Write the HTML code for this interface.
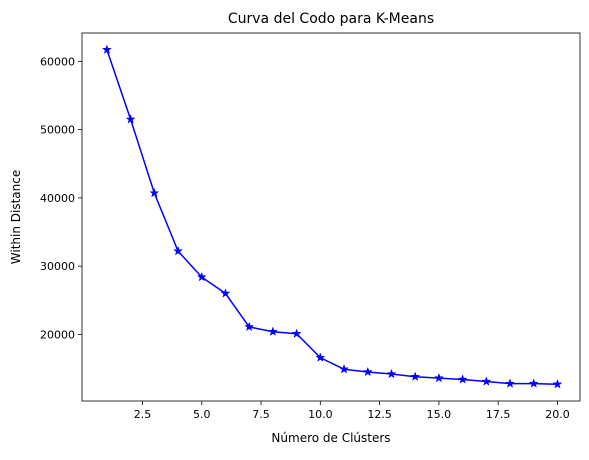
<!DOCTYPE html>
<html><head><meta charset="utf-8">
<style>
body{margin:0;background:#fff;font-family:"Liberation Sans","DejaVu Sans",sans-serif;}
svg text{font-family:"DejaVu Sans","Liberation Sans",sans-serif;}
</style></head>
<body>
<svg id="chart" width="589" height="455" viewBox="0 0 589 455">
<text x="331" y="23" font-size="14" text-anchor="middle">Curva del Codo para K-Means</text>
<text x="331" y="442" font-size="12" text-anchor="middle">Número de Clústers</text>
<text x="20" y="217" font-size="12" text-anchor="middle" transform="rotate(-90 20 217)">Within Distance</text>
<g id="axes"></g>
</svg>
<script>
const clusters=[1,2,3,4,5,6,7,8,9,10,11,12,13,14,15,16,17,18,19,20];
const distances=[61700,51500,40700,32200,28400,26000,21100,20400,20100,16600,14900,14500,14200,13800,13600,13400,13100,12800,12800,12700];
const xTicks=[2.5,5.0,7.5,10.0,12.5,15.0,17.5,20.0];
const yTicks=[20000,30000,40000,50000,60000];
const L=82,R=580,T=33,B=401;
const xMin=-0.05,xMax=20.95,yMin=10250,yMax=64150;
const sx=v=>L+(v-xMin)/(xMax-xMin)*(R-L);
const sy=v=>B-(v-yMin)/(yMax-yMin)*(B-T);
const NS="http://www.w3.org/2000/svg";
const g=document.getElementById('axes');
function mk(t,a){const e=document.createElementNS(NS,t);for(const k in a)e.setAttribute(k,a[k]);g.appendChild(e);return e;}
xTicks.forEach(v=>{
 const l=mk('line',{x1:sx(v),x2:sx(v),y1:B,y2:B+4,stroke:'#000','stroke-width':0.8});
 
 
 const t=mk('text',{x:sx(v),y:B+17,'font-size':11,'text-anchor':'middle'});
 t.textContent=v.toFixed(1);
 
 
});
yTicks.forEach(v=>{
 const l=mk('line',{x1:L-4,x2:L,y1:sy(v),y2:sy(v),stroke:'#000','stroke-width':0.8});
 
 
 const t=mk('text',{x:L-7,y:sy(v)+4,'font-size':11,'text-anchor':'end'});
 t.textContent=v;
 
 
});
const pts=clusters.map((c,i)=>sx(c)+','+sy(distances[i])).join(' ');
const line=mk('polyline',{points:pts,fill:'none',stroke:'#0000ff','stroke-width':1.5});


function star(cx,cy,r){let p=[];for(let i=0;i<10;i++){const a=-Math.PI/2+i*Math.PI/5;const rr=i%2?r*0.4:r;p.push((cx+rr*Math.cos(a)).toFixed(2)+','+(cy+rr*Math.sin(a)).toFixed(2));}return p.join(' ');}
clusters.forEach((c,i)=>{
 const m=mk('polygon',{points:star(sx(c),sy(distances[i]),4.5),fill:'#0000ff',stroke:'#0000ff','stroke-width':0.5});
 
 
});
const f=mk('rect',{x:L,y:T,width:R-L,height:B-T,fill:'none',stroke:'#000','stroke-width':0.8});


</script>
</body></html>
